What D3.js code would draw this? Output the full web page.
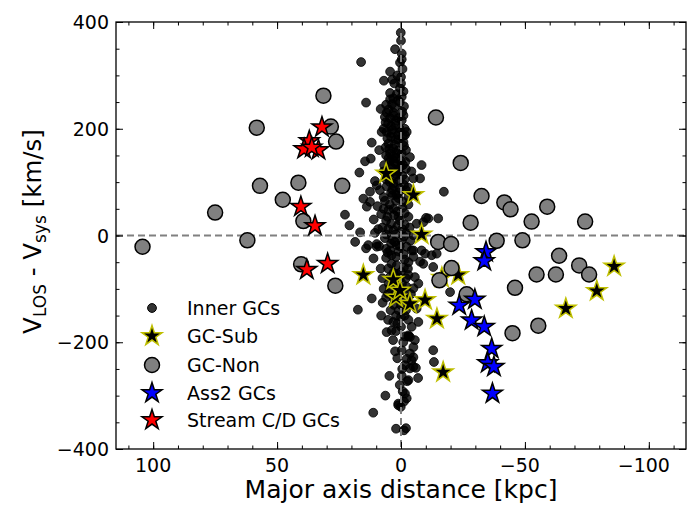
<!DOCTYPE html>
<html>
<head>
<meta charset="UTF-8">
<title>GC kinematics</title>
<script src="https://cdn.jsdelivr.net/npm/d3@7"></script>
<style>
  body { margin: 0; padding: 0; background: #fff; }
  text { font-family: "DejaVu Sans", sans-serif; }
</style>
</head>
<body>
<script>
// ---- data: [major axis distance (kpc), V_LOS - V_sys (km/s)]
var innerGCs = [
  [0.1,380],[0,365],[2.4,349],[-0.3,341],[-0.3,330],[0.4,324],[16.1,325],[4.4,307],[0,297],[6.9,290],
  [3.5,292],[2.7,285],[0,285],[0.4,276],[4.4,267],[1.7,265],[3.1,257],[4.4,255],[1.2,253],[14.1,249],
  [-0.3,260],[-1.2,242],[8.2,237],[5.8,230],[6.5,222],[4.4,220],[1.1,220],[-0.3,216],[5.2,210],[2.2,206],
  [7.0,200],[0.5,200],[-1.5,200],[-0.5,232],[2.5,240],[3.6,246],[-1.0,270],[-0.6,312],[1.5,300],
  [7.8,194],[5.8,194],[3.8,192],[0.4,194],[-2.3,194],[-1.6,188],[11.8,174],[5.1,172],[1.1,179],[3.1,163],
  [4.4,154],[1.7,154],[-0.3,154],[14.5,139],[12.2,144],[-3.6,147],[-8.3,132],[4.4,140],[2.3,135],[0,130],
  [16.8,118],[1.2,120],[-0.6,112],[-1.8,138],[3.5,126],[6.8,132],[2.5,110],[-5,107],[-7.7,107],[9.8,94],
  [8.5,85],[12.5,82],[4.5,100],[0.8,103],[-1.2,95],[2.8,92],[6.2,165],[2.6,170],[-1.0,175],[5.5,182],
  [-0.8,186],[3.0,148],[7.0,120],[5.5,110],
  [15.2,69],[12.5,63],[13.8,54],[6.5,65],[4.5,58],[2.0,65],[-1.0,63],[-3.0,58],[22.6,39],[20.8,19],
  [16.5,6],[8.0,40],[5.5,35],[4.0,22],[7.5,15],[3.0,10],[-0.5,12],[-3.5,15],[-3.0,35],[-10.1,33],
  [-11,32],[-15,32],[-6.3,22],[-9,25],[-17.3,82],[1.0,80],[3.5,75],[-2.0,85],[5.0,48],[1.5,45],
  [-1.5,42],[0.5,28],[2.2,2],[-2,5],[10.5,5],[6,2],[-5,0.5],[9.5,55],[11,30],
  [18.5,-12],[13.2,-18],[9.8,-16],[14.1,-24],[9.8,-21],[11.1,-43],[8.2,-62],[4.4,-28],[3.8,-37],[1.7,-18],
  [-0.3,-9],[-2.3,-21],[-4.3,-28],[-5,-40],[-7.7,-49],[3.8,-53],[1.7,-56],[5.2,-62],[0,-68],[-3,-74],
  [-5.6,-78],[-7,-90],[-5,-99],[-2.3,-96],[4.4,-99],[-5,-28],[-8.3,-28],[-9,-53],[-12.4,-37],[-13,-59],
  [-14.4,-34],[6.5,-5],[3.5,-8],[1.0,-30],[-1.5,-45],[0.5,-80],[2.5,-90],[-1.2,-60],[6.0,-42],[7.5,-80],
  [-3.8,-10],[-9.7,-34],
  [5.2,-109],[11.8,-118],[7.4,-126],[17.4,-139],[-6.3,-137],[5.2,-158],[3.1,-162],[0,-153],[0,-171],[-4.3,-171],
  [-7,-162],[5.8,-181],[3.8,-178],[-3,-189],[-1.6,-189],[-19.8,-106],[-3.6,-190],[-5.6,-196],[-0.9,-200],[2.4,-217],
  [-0.3,-215],[-3.6,-221],[-5,-228],[-2.3,-231],[-4.3,-234],[-13,-215],[-13.3,-237],[-1.6,-243],[-3.6,-249],[-6,-248],
  [4.7,-263],[-0.3,-263],[-2.5,-273],[-6.9,-267],[-0.7,-292],[6.3,-300],[-2.3,-305],[-1.2,-311],[1.1,-318],[0.1,-321],
  [11.2,-332],[-2,-361],[-1.2,-365],[-3,-187],[-5,-209],[-5,-246],[-3,-271],[-1.6,-296],[1.1,-315],[2,-179],
  [2,-362],[1.0,-140],[-2.0,-120],[3.0,-130],[-1.0,-110],[1.5,-230],[-0.5,-250],[0.5,-280],
  [2,215],[4,205],[-1,225],[3,230],[6,245],[0.5,250],[2,180],[4,185],[1,160],[-2,160],
  [3,140],[5,145],[0,140],[1,125],[-2,125],[4,118],[6,105],[3,98],[0.5,88],[-3,72],
  [1,70],[4,80],[7,72],[3,50],[6,28],[-1.5,20],[1,35],[4,-15],[0.5,-20],[2,-40],
  [-3,-50],[6,-25],[-1,-35],[3,-70],[-2,-80],[1,-100],[5,-90],[-4,-110],[3,-118],[0,-130],
  [-2,-140],[2,-150],[-3,-158],[7,-100],[8,-150],
  [5,236],[2.8,224],[6.2,212],[3.5,198],[1.2,188],[-1.2,168],[4.8,162],[2,145],[6,150],[-0.8,132],
  [4.2,128],[2,115],[-1.5,105],[5.8,92],[3.5,86],[1.8,76],[-0.6,52],[2.8,38],[7,50],[5.2,12],
  [1.4,18],[-1.2,-2],[2.5,-12],[5.4,-32],[-2.8,-62],[1.6,-72],[4.5,-78],[-0.4,-90],[2.2,-108],[6,-116],
  [-1.5,-150],[4.2,-140],[1.5,-165],[3.2,-196],[8.8,-20],[9.2,12],[10.5,102],[8.8,160],[-4.2,120],[-2.8,90]
];

var gcSub = [
  [6,116],[-5,76],[-8.3,2],[15.2,-74],[3.1,-83],[2,-116],[-3.6,-128],[-9.7,-121],[-14.5,-156],[-16.5,-79],
  [-23.1,-74],[-17,-256],[-66.5,-137],[-79,-104],[-86,-58],[0.4,-103]
];

var gcNon = [
  [31.3,262],[58.2,202],[28.3,204],[26.2,176],[56.9,93],[41.4,99],[23.7,93],[47.7,67],[75,43],[39.4,27],
  [104.3,-21],[62,-9],[40.3,-54],[26.5,-94],
  [-14.1,221],[-24.1,136],[-32.5,74],[-41.7,62],[-44.2,49],[-59,54],[-28.1,24],[-52.7,26],[-74.3,26],
  [-15,-12],[-20.2,-16],[-38.6,-10],[-49,-9],[-63.8,-38],[-71.9,-56],[-75.9,-73],[-54.7,-73],[-62.5,-73],
  [-20.4,-61],[-15.5,-84],[-46,-98],[-26.5,-110],[-55.4,-169],[-45,-183]
];

var ass2GCs = [
  [-34.3,-31],[-33.6,-48],[-29.8,-120],[-23.5,-131],[-28.5,-159],[-33.6,-171],[-36.6,-212],[-35,-239],
  [-37.5,-246],[-36.9,-296]
];

var streamCD = [
  [31.9,203],[37,177],[39.1,162],[33.3,160],[36,165],[40.4,54],[34.7,18],[38,-64],[29.6,-53]
];

var xTicks = [100, 50, 0, -50, -100];
var yTicks = [-400, -200, 0, 200, 400];
var legendLabels = ["Inner GCs", "GC-Sub", "GC-Non", "Ass2 GCs", "Stream C/D GCs"];

// ---- layout
var W = 695, H = 505;
var margin = {left: 116, right: 9, top: 22, bottom: 56};
var iw = W - margin.left - margin.right,
    ih = H - margin.top - margin.bottom;

var svg = d3.select("body").append("svg")
    .attr("width", W)
    .attr("height", H);

var x = d3.scaleLinear().domain([115, -115]).range([margin.left, margin.left + iw]);
var y = d3.scaleLinear().domain([-400, 400]).range([margin.top + ih, margin.top]);

var starPath = d3.symbol().type(d3.symbolStar).size(125);

svg.append("clipPath").attr("id", "plotclip")
  .append("rect").attr("x", margin.left).attr("y", margin.top).attr("width", iw).attr("height", ih);

var plot = svg.append("g").attr("clip-path", "url(#plotclip)");

// inner GCs
plot.selectAll("circle.inner").data(innerGCs).enter().append("circle")
    .attr("class", "inner")
    .attr("cx", function(d) { return x(d[0]); })
    .attr("cy", function(d) { return y(d[1]); })
    .attr("r", 4.4)
    .style("fill", "#000")
    .style("fill-opacity", 0.8)
    .style("stroke", "#000")
    .style("stroke-opacity", 0.8)
    .style("stroke-width", 1);

// dashed reference lines
plot.append("line")
    .attr("x1", margin.left).attr("x2", margin.left + iw)
    .attr("y1", y(0)).attr("y2", y(0))
    .style("stroke", "#808080").style("stroke-width", 2).style("stroke-dasharray", "7,4");
plot.append("line")
    .attr("x1", x(0)).attr("x2", x(0))
    .attr("y1", margin.top).attr("y2", margin.top + ih)
    .style("stroke", "#808080").style("stroke-width", 2).style("stroke-dasharray", "7,4");

function drawStars(data, fill, edge, cls) {
  plot.selectAll("path." + cls).data(data).enter().append("path")
      .attr("class", cls)
      .attr("d", starPath)
      .attr("transform", function(d) { return "translate(" + x(d[0]) + "," + y(d[1]) + ")"; })
      .style("fill", fill)
      .style("stroke", edge)
      .style("stroke-width", 1.5);
}

drawStars(gcSub, "#000", "#bfbf00", "sub");

plot.selectAll("circle.non").data(gcNon).enter().append("circle")
    .attr("class", "non")
    .attr("cx", function(d) { return x(d[0]); })
    .attr("cy", function(d) { return y(d[1]); })
    .attr("r", 7.5)
    .style("fill", "#808080")
    .style("stroke", "#000")
    .style("stroke-width", 1.5);

drawStars(ass2GCs, "#0000ff", "#000", "ass2");
drawStars(streamCD, "#ff0000", "#000", "stream");

// ---- axes, ticks pointing inwards on all four sides
var xMinor = d3.range(-110, 111, 10), yMinor = d3.range(-400, 401, 50);

function tickAxis(axisFn, scale, major, minor, transform) {
  var g = svg.append("g").attr("transform", transform);
  g.call(axisFn(scale).tickValues(minor).tickSize(-3.5).tickFormat(""));
  g.call(function(s) { s.select(".domain").remove(); });
  var g2 = svg.append("g").attr("transform", transform);
  g2.call(axisFn(scale).tickValues(major).tickSize(-7).tickFormat(""));
  g2.call(function(s) { s.select(".domain").remove(); });
  svg.selectAll(".tick line").style("stroke", "#000").style("stroke-width", 1);
}

tickAxis(d3.axisBottom, x, xTicks, xMinor, "translate(0," + (margin.top + ih) + ")");
tickAxis(d3.axisTop, x, xTicks, xMinor, "translate(0," + margin.top + ")");
tickAxis(d3.axisLeft, y, yTicks, yMinor, "translate(" + margin.left + ",0)");
tickAxis(d3.axisRight, y, yTicks, yMinor, "translate(" + (margin.left + iw) + ",0)");

svg.append("rect")
    .attr("x", margin.left).attr("y", margin.top)
    .attr("width", iw).attr("height", ih)
    .style("fill", "none").style("stroke", "#000").style("stroke-width", 1.3);

var fmt = function(v) { return v < 0 ? "\u2212" + Math.abs(v) : String(v); };

svg.selectAll("text.xt").data(xTicks).enter().append("text")
    .attr("class", "xt")
    .attr("x", function(d) { return x(d) - (d < 0 ? 5 : 0); })
    .attr("y", 472)
    .attr("text-anchor", "middle")
    .style("font-size", "19px")
    .text(fmt);

svg.selectAll("text.yt").data(yTicks).enter().append("text")
    .attr("class", "yt")
    .attr("x", margin.left - 7)
    .attr("y", function(d) { return y(d) + 7; })
    .attr("text-anchor", "end")
    .style("font-size", "19px")
    .text(fmt);

svg.append("text")
    .attr("x", x(0))
    .attr("y", 498)
    .attr("text-anchor", "middle")
    .style("font-size", "25px")
    .text("Major axis distance [kpc]");

var yl = svg.append("text")
    .attr("transform", "translate(41," + (y(0) - 4) + ") rotate(-90)")
    .attr("text-anchor", "middle")
    .style("font-size", "24.5px");
yl.append("tspan").text("V");
yl.append("tspan").attr("dy", 5).style("font-size", "17px").text("LOS");
yl.append("tspan").attr("dy", -5).text(" - V");
yl.append("tspan").attr("dy", 5).style("font-size", "17px").text("sys");
yl.append("tspan").attr("dy", -5).text(" [km/s]");

// ---- legend
var legY = [308, 336, 365, 393, 420], legX = 152;
var leg = svg.append("g");
leg.append("circle").attr("cx", legX).attr("cy", legY[0]).attr("r", 4.4)
    .style("fill", "#000").style("fill-opacity", 0.8).style("stroke", "#000");
leg.append("path").attr("d", starPath).attr("transform", "translate(" + legX + "," + legY[1] + ")")
    .style("fill", "#000").style("stroke", "#bfbf00").style("stroke-width", 1.5);
leg.append("circle").attr("cx", legX).attr("cy", legY[2]).attr("r", 7.5)
    .style("fill", "#808080").style("stroke", "#000").style("stroke-width", 1.5);
leg.append("path").attr("d", starPath).attr("transform", "translate(" + legX + "," + legY[3] + ")")
    .style("fill", "#0000ff").style("stroke", "#000").style("stroke-width", 1.5);
leg.append("path").attr("d", starPath).attr("transform", "translate(" + legX + "," + legY[4] + ")")
    .style("fill", "#ff0000").style("stroke", "#000").style("stroke-width", 1.5);
leg.selectAll("text").data(legendLabels).enter().append("text")
    .attr("x", 187)
    .attr("y", function(d, i) { return legY[i] + 7; })
    .style("font-size", "19px")
    .text(function(d) { return d; });
</script>
</body>
</html>
